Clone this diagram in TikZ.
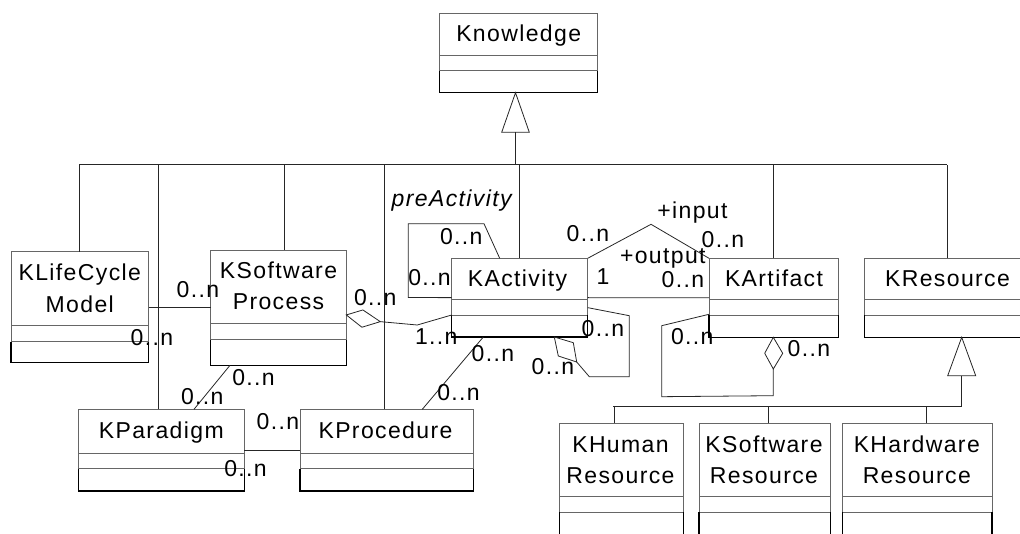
\documentclass[tikz,border=0pt]{standalone}
\usepackage{fontspec}
\setmainfont{Liberation Sans}[LetterSpace=6.0]
\usetikzlibrary{calc}
\tikzset{
 clsbox/.style={draw=black!60, line width=0.8pt, inner sep=0pt, outer sep=0pt},
 cdiv/.style={draw=black!60, line width=0.8pt},
 cbot/.style={draw=black, line width=1.3pt},
 conn/.style={draw=black!85, line width=0.8pt},
 txt/.style={inner sep=0pt, outer sep=0pt, font=\fontsize{23}{28}\selectfont, anchor=base},
 mult/.style={txt, anchor=base west},
}
\newcommand{\umlclass}[7]{%
 \node[clsbox, minimum width={#4-#2}, minimum height={#5-#3}] (#1) at ({(#2+#4)/2},{(#3+#5)/2}) {};
 \draw[cdiv] (#2,#6) -- (#4,#6);
 \draw[cdiv] (#2,#7) -- (#4,#7);
 \draw[cbot] (#2,#7) -- (#2,#5) -- (#4,#5) -- (#4,#7);
}
\begin{document}
\begin{tikzpicture}[x=1pt,y=-1pt]
\clip (0,0) rectangle (1020,534);
% classes
\umlclass{kn}{439.7}{13.3}{597.7}{92.7}{55.3}{70.7}
\umlclass{klc}{11}{251.7}{148.7}{362.7}{325.7}{341.7}
\umlclass{ksp}{210.7}{250}{346.3}{365.3}{323.7}{339.7}
\umlclass{kpar}{78.7}{409.3}{244.3}{491}{453.3}{468.7}
\umlclass{kproc}{300}{409.3}{473.3}{491}{453.3}{468.7}
\umlclass{kact}{451.7}{258.3}{587.7}{337}{299.3}{315.3}
\umlclass{kart}{709}{258.3}{838.7}{337.3}{299.7}{315.3}
\umlclass{kres}{864.3}{258.3}{1030}{337.3}{299.7}{315.3}
\umlclass{khum}{559.3}{423.3}{683.3}{560}{496.7}{512.3}
\umlclass{ksr}{699}{423.3}{830.7}{560}{496.7}{512.3}
\umlclass{khr}{842.7}{423.3}{992}{560}{496.7}{512.3}
% class names
\node[txt] (kn-t) at (518.7,41.7) {Knowledge};
\node[txt] (klc-t1) at (79.8,280.7) {KLifeCycle};
\node[txt] (klc-t2) at (79.8,312.3) {Model};
\node[txt] (ksp-t1) at (278.5,278.3) {KSoftware};
\node[txt] (ksp-t2) at (278.5,310) {Process};
\node[txt] (kact-t) at (517.5,287) {KActivity};
\node[txt] (kart-t) at (774,286.7) {KArtifact};
\node[txt] (kres-t) at (947.5,286.7) {KResource};
\node[txt] (kpar-t) at (161.3,438.3) {KParadigm};
\node[txt] (kproc-t) at (385.5,438.3) {KProcedure};
\node[txt] (khum-t1) at (620.5,452.7) {KHuman};
\node[txt] (khum-t2) at (620.5,483.3) {Resource};
\node[txt] (ksr-t1) at (764,452.7) {KSoftware};
\node[txt] (ksr-t2) at (764,483.3) {Resource};
\node[txt] (khr-t1) at (916.8,452.7) {KHardware};
\node[txt] (khr-t2) at (916.8,483.3) {Resource};
% generalization to Knowledge
\coordinate (kntip) at (515.5,92.7);
\coordinate (busL) at (79,164.7);
\coordinate (busR) at (946.7,164.7);
\draw[conn, fill=white] (kntip) -- ++(-13.8,39.6) -- ++(27.6,0) -- cycle;
\draw[conn] ($(kntip)+(0,39.6)$) -- (kntip |- busL);
\draw[conn] (busL) -- (busR);
\draw[conn] (klc.north) -- (klc.north |- busL);
\draw[conn] ([xshift=-3pt]kpar.north) -- ([xshift=-3pt]kpar.north |- busL);
\draw[conn] ([xshift=5.8pt]ksp.north) -- ([xshift=5.8pt]ksp.north |- busL);
\draw[conn] ([xshift=-2.6pt]kproc.north) -- ([xshift=-2.6pt]kproc.north |- busL);
\draw[conn] (kact.north) -- (kact.north |- busL);
\draw[conn] (kart.north) -- (kart.north |- busL);
\draw[conn] (kres.north) -- (kres.north |- busL);
% generalization to KResource
\coordinate (krtip) at (961.7,337.3);
\coordinate (bus2L) at (613.3,406.7);
\coordinate (bus2R) at (961.7,406.7);
\draw[conn, fill=white] (krtip) -- ++(-14,38.4) -- ++(28,0) -- cycle;
\draw[conn] ($(krtip)+(0,38.4)$) -- (bus2R);
\draw[conn] (bus2L) -- (bus2R);
\draw[conn] ([xshift=-7.2pt]khum.north) -- ([xshift=-7.2pt]khum.north |- bus2L);
\draw[conn] ([xshift=3.5pt]ksr.north) -- ([xshift=3.5pt]ksr.north |- bus2L);
\draw[conn] ([xshift=8.7pt]khr.north) -- ([xshift=8.7pt]khr.north |- bus2L);
% associations
\draw[conn] (klc.east) -- (ksp.west |- klc.east);
\draw[conn] ($(ksp.south west)+(19.3,0)$) -- ($(kpar.north west)+(115.3,0)$);
\draw[conn] (kpar.east) -- (kproc.west |- kpar.east);
\draw[conn] ($(kact.south west)+(31.6,0)$) -- ($(kproc.north west)+(122.3,0)$);
% aggregation KSoftwareProcess - KActivity
\draw[conn] ($(ksp.east)+(0,7.3)$) -- ++(16.6,-5) -- ++(17.4,11.7) coordinate (d1b) -- ++(-18.4,5.6) -- cycle;
\draw[conn] (d1b) -- (417.3,325) -- ($(kact.west)+(0,17.35)$);
% preActivity self loop
\draw[conn] ($(kact.north west)+(48,0)$) -- (484,223.7) -- (408.3,223.7) -- (408.3,297.5) -- (kact.west);
% input / output
\draw[conn] (kact.north east) -- (651,224.3) -- (kart.north west);
\draw[conn] (kact.east) -- (kart.west);
% KActivity self aggregation
\draw[conn] ($(kact.south west)+(102.6,0)$) -- ++(19,5.7) -- ++(3.4,19.3) coordinate (d2b) -- ++(-18.4,-6) -- cycle;
\draw[conn] (d2b) -- (589.3,376.7) -- (629.3,376.7) -- (629.3,315.7) -- ($(kact.east)+(0,10)$);
% KArtifact self aggregation
\draw[conn] ($(kart.south west)+(64.3,0)$) coordinate (d3a) -- ++(9.4,16) -- ++(-9.4,15.7) coordinate (d3b) -- ++(-8.6,-15.7) -- cycle;
\draw[conn] (d3b) -- ++(0,26.7) -- (661.7,396.7) -- (661.7,325.7) -- ($(kart.west)+(0,16.5)$);
% multiplicities and role names
\node[mult] (m1) at (176.7,297.3) {0..n};
\node[mult] (m2) at (130.7,346) {0..n};
\node[mult] (m3) at (232.3,385) {0..n};
\node[mult] (m4) at (181,404.3) {0..n};
\node[mult] (m5) at (256.7,429.3) {0..n};
\node[mult] (m6) at (224.3,476.7) {0..n};
\node[mult] (m7) at (354,306) {0..n};
\node[mult] (m8) at (415,344.3) {1..n};
\node[mult] (m9) at (471.7,361.7) {0..n};
\node[mult] (m10) at (437.3,400) {0..n};
\node[mult] (pre) at (391.7,206.7) {\itshape preActivity};
\node[mult] (m11) at (440,245) {0..n};
\node[mult] (m12) at (408.3,286) {0..n};
\node[mult] (m13) at (566.7,241.7) {0..n};
\node[mult] (inp) at (657.3,218.3) {+input};
\node[mult] (m14) at (701.7,247.7) {0..n};
\node[mult] (outp) at (620,264) {+output};
\node[mult] (m15) at (596.7,284.3) {1};
\node[mult] (m16) at (661.7,287.7) {0..n};
\node[mult] (m17) at (581.7,336.7) {0..n};
\node[mult] (m18) at (531.7,375) {0..n};
\node[mult] (m19) at (671,345) {0..n};
\node[mult] (m20) at (787.7,356.7) {0..n};
\end{tikzpicture}
\end{document}
